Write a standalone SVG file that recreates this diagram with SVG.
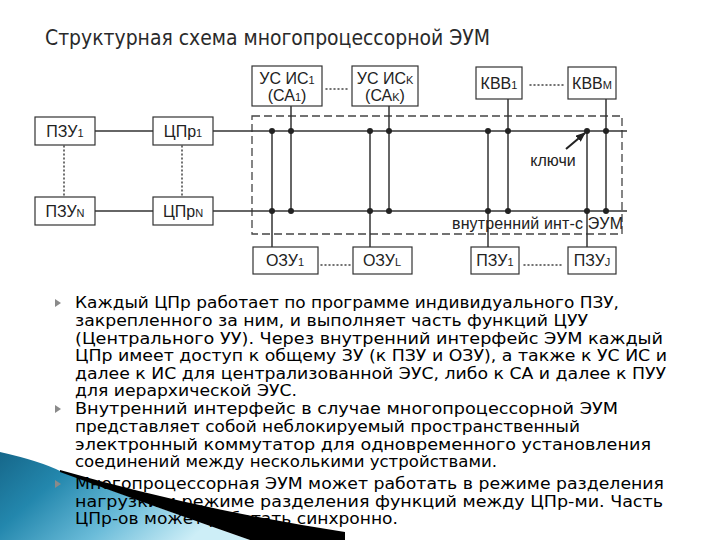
<svg xmlns="http://www.w3.org/2000/svg" width="720" height="540" viewBox="0 0 720 540">
<style>
.box{fill:#fff;stroke:#333;stroke-width:1.2}
.lbl{font-family:"Liberation Sans",Arial,sans-serif;font-size:16px;fill:#222;text-anchor:middle}
.sub{font-size:11px}
.wire{stroke:#333;stroke-width:1.5;fill:none}
.dot{fill:#222}
.dotted{stroke:#444;stroke-width:1.5;stroke-dasharray:1 3;stroke-linecap:round;fill:none}
.body{font-family:"DejaVu Sans","Liberation Sans",sans-serif;font-size:15px;fill:#000}
.bul{fill:#8a8a8a}
</style>
<defs>
<linearGradient id="blue" x1="0" y1="0" x2="1" y2="0.4">
<stop offset="0" stop-color="#16678a"/>
<stop offset="0.3" stop-color="#2387ad"/>
<stop offset="0.65" stop-color="#6bbcd9"/>
<stop offset="1" stop-color="#cdeef7"/>
</linearGradient>
<marker id="arr" markerWidth="10" markerHeight="8" refX="9" refY="4" orient="auto" markerUnits="userSpaceOnUse">
<path d="M0,0 L10,4 L0,8 Z" fill="#222"/>
</marker>
<polygon id="tri" points="0,-4 6,0 0,4"/>
</defs>
<rect width="720" height="540" fill="#fff"/>

<text x="45" y="45" font-family="'DejaVu Sans Condensed','DejaVu Sans',sans-serif" font-size="21" fill="#2a2a2a" textLength="445" lengthAdjust="spacingAndGlyphs">Структурная схема многопроцессорной ЭУМ</text>

<g id="connectors">
<rect x="252" y="116" width="370" height="118" fill="none" stroke="#444" stroke-width="1.3" stroke-dasharray="8 4"/>
<line class="wire" x1="95" y1="131" x2="153" y2="131"/>
<line class="wire" x1="95" y1="211" x2="153" y2="211"/>
<line class="wire" x1="213" y1="131" x2="627" y2="131"/>
<line class="wire" x1="213" y1="211" x2="627" y2="211"/>
<line class="wire" x1="272" y1="131" x2="272" y2="247"/>
<line class="wire" x1="291" y1="106" x2="291" y2="211"/>
<line class="wire" x1="370" y1="131" x2="370" y2="247"/>
<line class="wire" x1="389" y1="106" x2="389" y2="211"/>
<line class="wire" x1="488" y1="131" x2="488" y2="247"/>
<line class="wire" x1="508" y1="99" x2="508" y2="211"/>
<line class="wire" x1="587" y1="131" x2="587" y2="247"/>
<line class="wire" x1="606" y1="99" x2="606" y2="211"/>
<g>
<circle class="dot" cx="272" cy="131" r="3"/><circle class="dot" cx="272" cy="211" r="3"/>
<circle class="dot" cx="291" cy="131" r="3"/><circle class="dot" cx="291" cy="211" r="3"/>
<circle class="dot" cx="370" cy="131" r="3"/><circle class="dot" cx="370" cy="211" r="3"/>
<circle class="dot" cx="389" cy="131" r="3"/><circle class="dot" cx="389" cy="211" r="3"/>
<circle class="dot" cx="488" cy="131" r="3"/><circle class="dot" cx="488" cy="211" r="3"/>
<circle class="dot" cx="508" cy="131" r="3"/><circle class="dot" cx="508" cy="211" r="3"/>
<circle class="dot" cx="587" cy="131" r="3"/><circle class="dot" cx="587" cy="211" r="3"/>
<circle class="dot" cx="606" cy="131" r="3"/><circle class="dot" cx="606" cy="211" r="3"/>
</g>
<line class="dotted" x1="64" y1="146" x2="64" y2="196"/>
<line class="dotted" x1="182" y1="146" x2="182" y2="196"/>
<line class="dotted" x1="326" y1="89" x2="350" y2="89"/>
<line class="dotted" x1="530" y1="85" x2="563" y2="85"/>
<line class="dotted" x1="321" y1="265" x2="350" y2="265"/>
<line class="dotted" x1="524" y1="265" x2="564" y2="265"/>
<line x1="566" y1="149" x2="585" y2="133" stroke="#222" stroke-width="2" marker-end="url(#arr)"/>
</g>

<g id="pzu1"><rect class="box" x="35" y="117" width="60" height="28"/><text class="lbl" x="65" y="137">ПЗУ<tspan class="sub">1</tspan></text></g>
<g id="pzuN"><rect class="box" x="35" y="197" width="60" height="28"/><text class="lbl" x="65" y="217">ПЗУ<tspan class="sub">N</tspan></text></g>
<g id="cpr1"><rect class="box" x="153" y="117" width="60" height="28"/><text class="lbl" x="183" y="137">ЦПр<tspan class="sub">1</tspan></text></g>
<g id="cprN"><rect class="box" x="153" y="197" width="60" height="28"/><text class="lbl" x="183" y="217">ЦПр<tspan class="sub">N</tspan></text></g>
<g id="usis1"><rect class="box" x="252" y="66" width="70" height="40"/><text class="lbl" x="287" y="84">УС ИС<tspan class="sub">1</tspan></text><text class="lbl" x="287" y="101">(СА<tspan class="sub">1</tspan>)</text></g>
<g id="usisK"><rect class="box" x="352" y="66" width="66" height="40"/><text class="lbl" x="385" y="84">УС ИС<tspan class="sub">K</tspan></text><text class="lbl" x="385" y="101">(СА<tspan class="sub">K</tspan>)</text></g>
<g id="kvv1"><rect class="box" x="476" y="67" width="46" height="32"/><text class="lbl" x="499" y="89">КВВ<tspan class="sub">1</tspan></text></g>
<g id="kvvM"><rect class="box" x="568" y="67" width="48" height="32"/><text class="lbl" x="592" y="89">КВВ<tspan class="sub">M</tspan></text></g>
<g id="ozu1"><rect class="box" x="253" y="247" width="65" height="27"/><text class="lbl" x="285" y="266">ОЗУ<tspan class="sub">1</tspan></text></g>
<g id="ozuL"><rect class="box" x="353" y="247" width="59" height="27"/><text class="lbl" x="382" y="266">ОЗУ<tspan class="sub">L</tspan></text></g>
<g id="pzu1b"><rect class="box" x="471" y="247" width="48" height="27"/><text class="lbl" x="495" y="266">ПЗУ<tspan class="sub">1</tspan></text></g>
<g id="pzuJ"><rect class="box" x="568" y="247" width="48" height="27"/><text class="lbl" x="592" y="266">ПЗУ<tspan class="sub">J</tspan></text></g>
<g id="labels">
<text class="lbl" x="553" y="166">ключи</text>
<text class="lbl" x="452" y="229" style="text-anchor:start" textLength="171">внутренний инт-с ЭУМ</text>
</g>

<path d="M0,452 Q40,461 60,471 Q150,505 250,540 L0,540 Z" fill="url(#blue)"/>

<g id="body">
<use href="#tri" class="bul" x="55" y="303"/>
<use href="#tri" class="bul" x="55" y="409"/>
<use href="#tri" class="bul" x="55" y="484"/>
<text class="body" x="75" y="308" textLength="544" lengthAdjust="spacingAndGlyphs">Каждый ЦПр работает по программе индивидуального ПЗУ,</text>
<text class="body" x="75" y="326" textLength="513" lengthAdjust="spacingAndGlyphs">закрепленного за ним, и выполняет часть функций ЦУУ</text>
<text class="body" x="75" y="344" textLength="588" lengthAdjust="spacingAndGlyphs">(Центрального УУ). Через внутренний интерфейс ЭУМ каждый</text>
<text class="body" x="75" y="361" textLength="592" lengthAdjust="spacingAndGlyphs">ЦПр имеет доступ к общему ЗУ (к ПЗУ и ОЗУ), а также к УС ИС и</text>
<text class="body" x="75" y="379" textLength="591" lengthAdjust="spacingAndGlyphs">далее к ИС для централизованной ЭУС, либо к СА и далее к ПУУ</text>
<text class="body" x="75" y="396" textLength="222" lengthAdjust="spacingAndGlyphs">для иерархической ЭУС.</text>
<text class="body" x="75" y="414" textLength="543" lengthAdjust="spacingAndGlyphs">Внутренний интерфейс в случае многопроцессорной ЭУМ</text>
<text class="body" x="75" y="432" textLength="505" lengthAdjust="spacingAndGlyphs">представляет собой неблокируемый пространственный</text>
<text class="body" x="75" y="450" textLength="576" lengthAdjust="spacingAndGlyphs">электронный коммутатор для одновременного установления</text>
<text class="body" x="75" y="467" textLength="422" lengthAdjust="spacingAndGlyphs">соединений между несколькими устройствами.</text>
<text class="body" x="75" y="489" textLength="589" lengthAdjust="spacingAndGlyphs">Многопроцессорная ЭУМ может работать в режиме разделения</text>
<text class="body" x="75" y="507" textLength="588" lengthAdjust="spacingAndGlyphs">нагрузки и режиме разделения функций между ЦПр-ми. Часть</text>
<text class="body" x="75" y="524" textLength="323" lengthAdjust="spacingAndGlyphs">ЦПр-ов может работать синхронно.</text>
</g>

<path d="M60,470 Q200,510 345,532 L345,540 L250,540 Q150,505 60,472 Z" fill="#000"/>
</svg>
